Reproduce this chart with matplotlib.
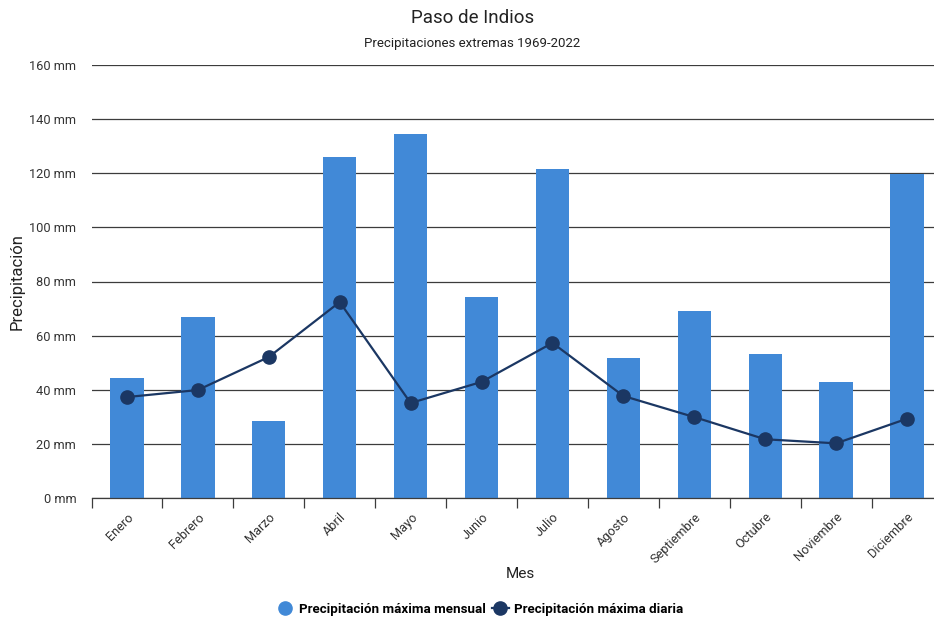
import numpy as np
import matplotlib
matplotlib.use("Agg")
import matplotlib.pyplot as plt
from matplotlib.lines import Line2D
from matplotlib.ticker import FuncFormatter

plt.rcParams["font.family"] = ["Roboto", "DejaVu Sans"]

meses = ["Enero", "Febrero", "Marzo", "Abril", "Mayo", "Junio", "Julio",
         "Agosto", "Septiembre", "Octubre", "Noviembre", "Diciembre"]
max_mensual = [44.5, 66.9, 28.6, 126.0, 134.5, 74.4, 121.6, 51.6, 69.2, 53.1, 42.8, 119.8]
max_diaria = [37.3, 39.9, 52.1, 72.4, 35.1, 42.9, 57.3, 37.7, 29.9, 21.7, 20.2, 29.3]

AZUL = "#4189d7"
NAVY = "#1b3763"
GRID = "#3c3c3c"

fig = plt.figure(figsize=(9.34, 6.21), dpi=100)
ax = fig.add_axes([91.5 / 934, 123 / 621, 851 / 934, 433 / 621])

x = np.arange(len(meses))
ax.bar(x, max_mensual, width=0.47, color=AZUL, zorder=2)
ax.plot(x, max_diaria, color=NAVY, lw=1.6, marker="o", ms=9.5, zorder=3)

ax.set_xlim(-0.5, len(meses) - 0.5)
ax.set_ylim(0, 160)
ax.set_yticks(np.arange(0, 161, 20))
ax.yaxis.set_major_formatter(FuncFormatter(lambda v, _: f"{v:.0f} mm"))
ax.grid(axis="y", color=GRID, lw=0.9, zorder=0)
ax.set_axisbelow(True)
for s in ["top", "right", "left"]:
    ax.spines[s].set_visible(False)
ax.spines["bottom"].set_color(GRID)
ax.spines["bottom"].set_linewidth(0.9)
ax.tick_params(axis="y", length=0, pad=11, labelsize=9.2, labelcolor="#333333")

# labels at centres, tick marks at category borders
ax.set_xticks(x)
ax.set_xticklabels(meses, rotation=45, ha="right", rotation_mode="anchor",
                   fontsize=9.2, color="#333333")
ax.tick_params(axis="x", which="major", length=0, pad=9)
ax.set_xticks(np.arange(-0.5, len(meses), 1), minor=True)
ax.tick_params(axis="x", which="minor", length=7, width=0.9, color=GRID)

ax.set_ylabel("Precipitación", fontsize=12, color="#222222")
ax.yaxis.set_label_coords(-0.078, 0.50)
fig.text(0.5575, 1 - 574 / 621, "Mes", ha="center", va="center", fontsize=11, color="#222222")

fig.text(0.506, 1 - 18 / 621, "Paso de Indios", ha="center", va="center", fontsize=13.5, color="#222222")
fig.text(0.506, 1 - 44 / 621, "Precipitaciones extremas 1969-2022", ha="center", va="center",
         fontsize=9.5, color="#222222")

handles = [Line2D([], [], ls="none", marker="o", ms=9.5, color=AZUL),
           Line2D([], [], color=NAVY, lw=1.6, marker="o", ms=9.5)]
fig.legend(handles, ["Precipitación máxima mensual", "Precipitación máxima diaria"],
           loc="center", bbox_to_anchor=(0.514, 1 - 609 / 621), ncol=2, frameon=False,
           prop={"weight": "bold", "size": 9.6}, handlelength=1.3, handletextpad=0.4,
           columnspacing=0.4)

fig.savefig("out.png", dpi=100, facecolor="white")
